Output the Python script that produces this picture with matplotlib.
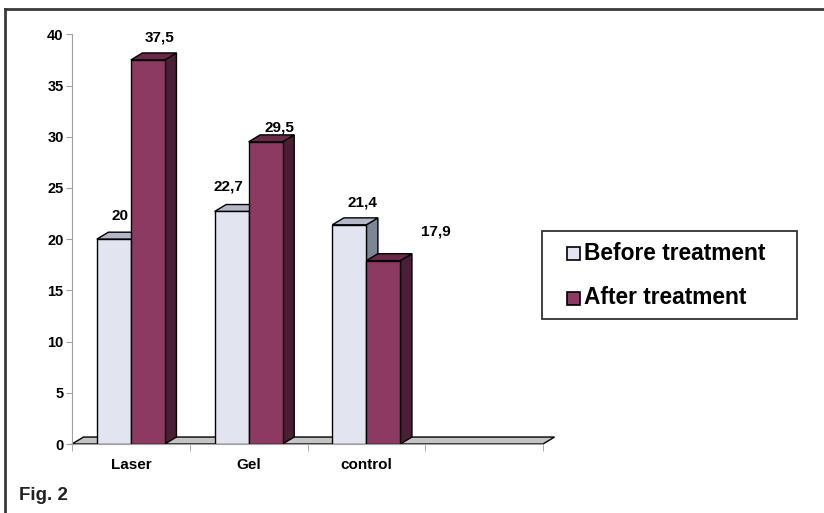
import matplotlib
matplotlib.use("Agg")
import matplotlib.pyplot as plt
from matplotlib.patches import Polygon, Rectangle
from matplotlib.lines import Line2D

plt.rcParams['font.family'] = ['Liberation Sans', 'DejaVu Sans']
plt.rcParams['font.weight'] = 'bold'

# datos
grupos = ["Laser", "Gel", "control", ""]
antes = [20, 22.7, 21.4]
despues = [37.5, 29.5, 17.9]
etiquetas_antes = ["20", "22,7", "21,4"]
etiquetas_despues = ["37,5", "29,5", "17,9"]
series = ["Before treatment", "After treatment"]
yticks = [0, 5, 10, 15, 20, 25, 30, 35, 40]

# ajuste fino de donde caen las etiquetas (x en categorias, y en unidades)
ajuste_antes = [(0.0, 2.3), (-0.08, 2.4), (0.06, 2.2)]
ajuste_despues = [(0.05, 2.15), (0.07, 1.4), (0.4, 2.8)]

# colores de las caras: frente, arriba, lado
col_antes = ("#E2E4F0", "#B3B7C7", "#7C8695")
col_despues = ("#8D3A63", "#6A2949", "#4A1F36")

ancho = 0.289
prof_x = 0.098
prof_y = 0.68

W, H = 824, 513
fig = plt.figure(figsize=(W / 100, H / 100), dpi=100)
ax = fig.add_axes([72 / W, 69 / H, 471 / W, 409.7 / H])
ax.set_xlim(-0.5, 3.5)
ax.set_ylim(0, 40)


def barra_3d(x0, valor, colores, z):
    frente, arriba, lado = colores
    ax.add_patch(Polygon([(x0 + ancho, 0), (x0 + ancho + prof_x, prof_y),
                          (x0 + ancho + prof_x, valor + prof_y), (x0 + ancho, valor)],
                         closed=True, facecolor=lado, edgecolor="black", lw=1, zorder=z))
    ax.add_patch(Polygon([(x0, valor), (x0 + prof_x, valor + prof_y),
                          (x0 + ancho + prof_x, valor + prof_y), (x0 + ancho, valor)],
                         closed=True, facecolor=arriba, edgecolor="black", lw=1, zorder=z))
    ax.bar(x0, valor, width=ancho, align="edge", color=frente, edgecolor="black",
           linewidth=1, zorder=z)


# piso gris
ax.add_patch(Polygon([(-0.5, 0), (3.5, 0), (3.5 + prof_x, prof_y), (-0.5 + prof_x, prof_y)],
                     closed=True, facecolor="#C4C4C4", edgecolor="black", lw=1, zorder=1,
                     clip_on=False))

z = 2
for i in range(len(antes)):
    barra_3d(i - ancho, antes[i], col_antes, z)
    barra_3d(i, despues[i], col_despues, z + 1)
    z += 2

    cx = i - ancho / 2 + prof_x / 2
    ax.text(cx + ajuste_antes[i][0], antes[i] + ajuste_antes[i][1], etiquetas_antes[i],
            ha="center", va="center", fontsize=11, fontweight="bold", zorder=20)
    cx = i + ancho / 2 + prof_x / 2
    ax.text(cx + ajuste_despues[i][0], despues[i] + ajuste_despues[i][1], etiquetas_despues[i],
            ha="center", va="center", fontsize=11, fontweight="bold", zorder=20)

# ejes
for lado in ["top", "right"]:
    ax.spines[lado].set_visible(False)
ax.spines["left"].set_color("#A0A0A0")
ax.spines["bottom"].set_color("#A0A0A0")
ax.set_yticks(yticks)
ax.tick_params(axis="y", length=4, color="#A0A0A0", pad=2, labelsize=10.5)
ax.set_xticks(range(len(grupos)))
ax.set_xticklabels(grupos, fontsize=11, fontweight="bold")
ax.set_xticks([-0.5, 0.5, 1.5, 2.5, 3.5], minor=True)
ax.tick_params(axis="x", which="major", length=0, pad=10)
ax.tick_params(axis="x", which="minor", length=5, color="#A0A0A0")
for t in ax.get_yticklabels():
    t.set_fontweight("bold")

# leyenda dibujada a mano (coordenadas en pixeles desde arriba)
fig.add_artist(Rectangle((542 / W, 1 - 319 / H), 255 / W, 88 / H, transform=fig.transFigure,
                         facecolor="white", edgecolor="#333333", lw=1.3))
for fila, (nombre, col) in enumerate(zip(series, [col_antes[0], col_despues[0]])):
    yc = 253 + fila * 45
    fig.add_artist(Rectangle((567 / W, 1 - (yc + 6.5) / H), 13 / W, 13 / H,
                             transform=fig.transFigure, facecolor=col,
                             edgecolor="black", lw=1.2))
    fig.text(584 / W, 1 - yc / H, nombre, fontsize=16.4, fontweight="bold",
             va="center", ha="left")

# marco exterior y rotulo
fig.add_artist(Line2D([5 / W, 1], [504 / H, 504 / H], color="#3A3A3A", lw=2,
                      transform=fig.transFigure))
fig.add_artist(Line2D([5 / W, 5 / W], [0, 504 / H], color="#3A3A3A", lw=2,
                      transform=fig.transFigure))
fig.text(19 / W, 1 - 496 / H, "Fig. 2", fontsize=13.5, fontweight="bold",
         color="#222222", va="center", ha="left")

fig.savefig("out.png", dpi=100)
